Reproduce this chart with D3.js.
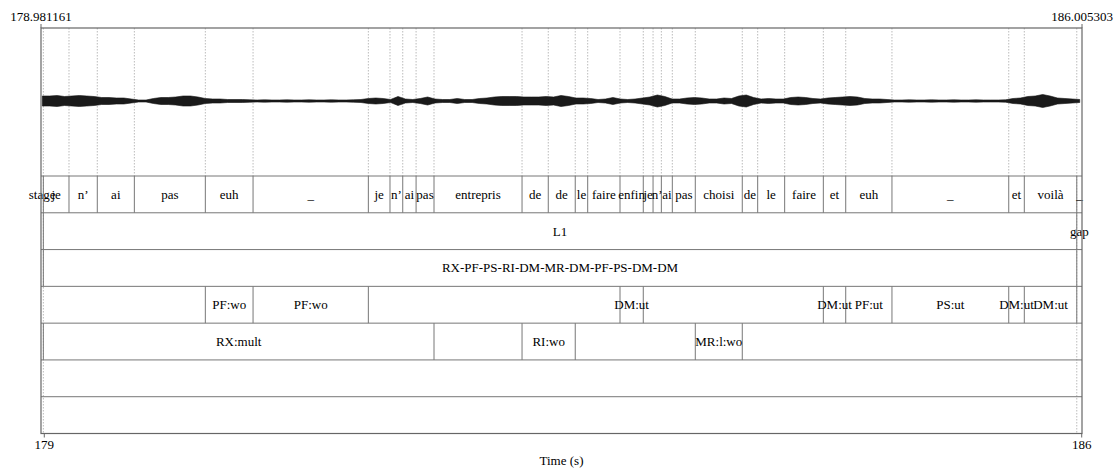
<!DOCTYPE html>
<html>
<head>
<meta charset="utf-8">
<script src="https://cdn.jsdelivr.net/npm/d3@7"></script>
<style>
  body { margin: 0; background: #fff; }
</style>
</head>
<body>
<svg id="chart" width="1115" height="468"></svg>
<script>
// time window of the picture
var tStart = 178.981161, tEnd = 186.005303;
var axisTicks = [179, 186];

// tier 1: words
var wordBounds = [178.997, 179.170, 179.361, 179.611, 180.090, 180.412, 181.190, 181.336, 181.422, 181.512,
    181.633, 182.227, 182.404, 182.586, 182.670, 182.888, 183.045, 183.111, 183.167, 183.241,
    183.396, 183.713, 183.817, 183.999, 184.260, 184.411, 184.723, 185.511, 185.616, 185.970];
var wordLabels = ["stage", "je", "n’", "ai", "pas", "euh", "_", "je", "n’", "ai", "pas", "entrepris",
    "de", "de", "le", "faire", "enfin", "je", "n’", "ai", "pas", "choisi", "de", "le", "faire",
    "et", "euh", "_", "et", "voilà", "_"];

// tier 2
var langBounds = [178.997, 185.970];
var langLabels = ["", "L1", "gap"];

// tier 3
var seqBounds = [178.997, 185.970];
var seqLabels = ["", "RX-PF-PS-RI-DM-MR-DM-PF-PS-DM-DM", ""];

// tier 4
var catBounds = [180.090, 180.412, 181.190, 182.888, 183.045, 184.260, 184.411, 184.723, 185.511, 185.616, 185.970];
var catLabels = ["", "PF:wo", "PF:wo", "", "DM:ut", "", "DM:ut", "PF:ut", "PS:ut", "DM:ut", "DM:ut", ""];

// tier 5
var typeBounds = [178.997, 181.633, 182.227, 182.586, 183.396, 183.713];
var typeLabels = ["", "RX:mult", "", "RI:wo", "", "MR:l:wo", ""];

// tiers 6 and 7 are empty
var tiers = [
    { bounds: wordBounds, labels: wordLabels },
    { bounds: langBounds, labels: langLabels },
    { bounds: seqBounds, labels: seqLabels },
    { bounds: catBounds, labels: catLabels },
    { bounds: typeBounds, labels: typeLabels },
    { bounds: [], labels: [""] },
    { bounds: [], labels: [""] }
];

// sound envelope, read every 0.05 s from 178.99 s (arbitrary amplitude units)
var envStart = 178.99, envStep = 0.05;
var envAmp = [5, 5, 5.5, 4.5, 5, 5.5, 5, 4.5,
    3.5, 3.5, 3, 3, 2, 1, 1,
    2.5, 3.5, 3.5, 4, 5, 5, 4,
    2.5, 2, 2, 1.5, 1.5, 1.5, 1.2,
    1, 1.2, 1, 1, 1.2, 1, 1, 1.2, 1, 1, 1.2, 1, 1, 1.2, 1.5,
    2.5, 3, 2.5, 1.5,
    4.5, 2, 1.5,
    2.5, 4, 2,
    1.5, 1.5, 2.5, 1.5, 1.5,
    2.5, 3, 4, 4.5, 4.5, 4.5, 4, 4, 4, 4.5, 4, 5.5, 4.5,
    3, 3, 2.5, 1.5, 2, 3.5, 2, 1.5, 2,
    3, 4, 6, 4.5, 2, 2, 3, 3.5, 3, 2, 2, 3, 2.5,
    5, 6, 3.5, 2, 2.5, 2, 2, 3.5, 4, 3.5, 2.5, 2, 3, 3.5, 4, 4.5, 4, 2.5, 2, 2, 1.5,
    1, 1, 1.2, 1, 1, 1.2, 1, 1, 1.2, 1, 1, 1.2, 1, 1, 1,
    1.2, 2.5, 3, 4.5, 5, 6.5, 5, 3, 2.5, 2, 1.5];

var FONT = "'Liberation Serif', 'Times New Roman', Times, 'DejaVu Serif', serif";

var svg = d3.select("#chart");
var frameL = 41, frameR = 1082, frameT = 28, soundB = 176, frameB = 433.5;

var x = d3.scaleLinear().domain([tStart, tEnd]).range([frameL, frameR]);
var yWave = d3.scaleLinear().domain([-74, 74]).range([175, 27]);
var yTier = d3.scaleLinear().domain([0, tiers.length]).range([soundB, frameB]);

function label(sel) {
    return sel.attr("font-family", FONT).attr("font-size", 13).attr("fill", "#000");
}

// dotted boundary lines over the sound
svg.append("g").selectAll("line")
    .data(wordBounds)
    .enter().append("line")
    .attr("x1", d => x(d)).attr("x2", d => x(d))
    .attr("y1", frameT).attr("y2", soundB)
    .attr("stroke", "#aaa").attr("stroke-width", 0.8)
    .attr("stroke-dasharray", "1.5,1.5");

// first and last boundaries run through all tiers
svg.append("g").selectAll("line")
    .data([wordBounds[0], wordBounds[wordBounds.length - 1]])
    .enter().append("line")
    .attr("x1", d => x(d)).attr("x2", d => x(d))
    .attr("y1", soundB).attr("y2", frameB)
    .attr("stroke", "#aaa").attr("stroke-width", 0.8)
    .attr("stroke-dasharray", "1.5,1.5");

// waveform drawn as its envelope
var env = envAmp.map((a, i) => ({ t: envStart + i * envStep, a: a }));
svg.append("path")
    .datum(env)
    .attr("d", d3.area()
        .x(d => x(d.t))
        .y0(d => yWave(-d.a))
        .y1(d => yWave(d.a)))
    .attr("fill", "#1a1a1a").attr("stroke", "#111").attr("stroke-width", 0.6);

// tiers
tiers.forEach(function (tier, i) {
    var y0 = yTier(i), y1 = yTier(i + 1);
    var edges = [tStart].concat(tier.bounds, [tEnd]);
    var g = svg.append("g");

    g.selectAll("line")
        .data(tier.bounds)
        .enter().append("line")
        .attr("x1", d => x(d)).attr("x2", d => x(d))
        .attr("y1", y0).attr("y2", y1)
        .attr("stroke", "#777").attr("stroke-width", 1);

    g.selectAll("text")
        .data(tier.labels)
        .enter().append("text")
        .attr("x", (d, j) => (x(edges[j]) + x(edges[j + 1])) / 2)
        .attr("y", (y0 + y1) / 2 + 4.5)
        .attr("text-anchor", "middle")
        .call(label)
        .text(d => d);

    svg.append("line")
        .attr("x1", frameL).attr("x2", frameR)
        .attr("y1", y0).attr("y2", y0)
        .attr("stroke", "#777").attr("stroke-width", 1);
});

// frame
svg.append("rect")
    .attr("x", frameL).attr("y", frameT)
    .attr("width", frameR - frameL).attr("height", frameB - frameT)
    .attr("fill", "none").attr("stroke", "#666").attr("stroke-width", 1.2);

// window start and end on top
svg.append("g").selectAll("line")
    .data([tStart, tEnd])
    .enter().append("line")
    .attr("x1", d => x(d)).attr("x2", d => x(d))
    .attr("y1", frameT - 4).attr("y2", frameT)
    .attr("stroke", "#666");
svg.append("g").selectAll("text")
    .data([tStart, tEnd])
    .enter().append("text")
    .attr("x", d => x(d)).attr("y", 21)
    .attr("text-anchor", "middle")
    .call(label)
    .text(d => d.toFixed(6));

// bottom axis
var axis = d3.axisBottom(x).tickValues(axisTicks).tickSize(4).tickPadding(2).tickFormat(d3.format("d"));
var ax = svg.append("g").attr("transform", "translate(0," + frameB + ")").call(axis);
ax.select(".domain").remove();
ax.selectAll(".tick line").attr("stroke", "#666");
ax.selectAll(".tick text").call(label);

svg.append("text")
    .attr("x", (frameL + frameR) / 2).attr("y", 465)
    .attr("text-anchor", "middle")
    .call(label)
    .text("Time (s)");
</script>
</body>
</html>
